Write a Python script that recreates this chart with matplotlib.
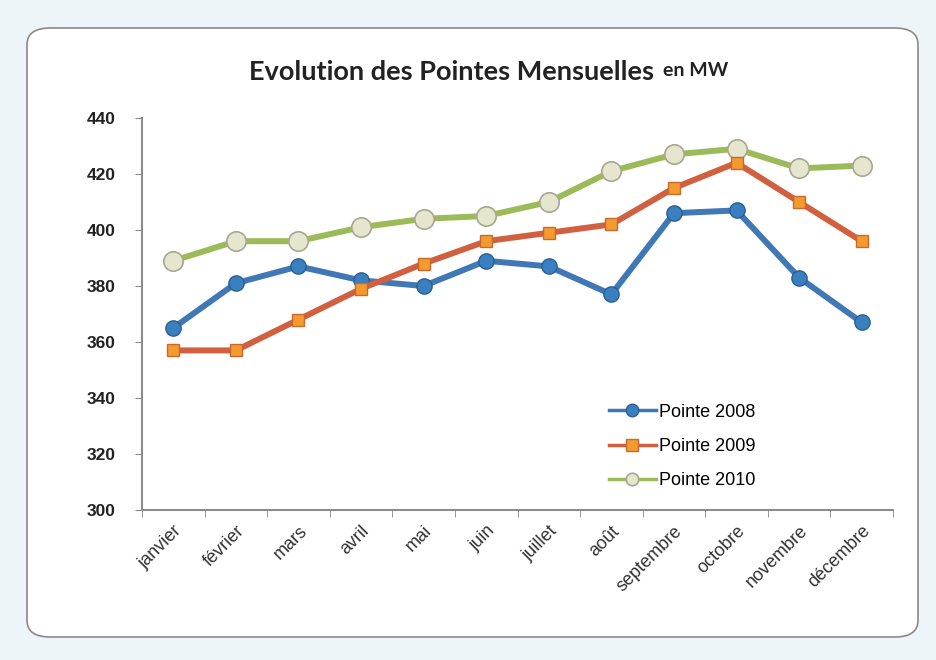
import numpy as np
import matplotlib.pyplot as plt
from matplotlib.patches import FancyBboxPatch

months = ["janvier", "février", "mars", "avril", "mai", "juin", "juillet",
          "août", "septembre", "octobre", "novembre", "décembre"]
pointe_2008 = [365, 381, 387, 382, 380, 389, 387, 377, 406, 407, 383, 367]
pointe_2009 = [357, 357, 368, 379, 388, 396, 399, 402, 415, 424, 410, 396]
pointe_2010 = [389, 396, 396, 401, 404, 405, 410, 421, 427, 429, 422, 423]
y_ticks = [300, 320, 340, 360, 380, 400, 420, 440]

fig = plt.figure(figsize=(9.36, 6.6), dpi=100)
fig.patch.set_facecolor("#eef5f9")

# white rounded card behind the chart
card = FancyBboxPatch((27 / 936, 1 - 637 / 660), (918 - 27) / 936, (637 - 28) / 660,
                      boxstyle="round,pad=0,rounding_size=0.025",
                      transform=fig.transFigure, facecolor="white",
                      edgecolor="#8a8a8a", linewidth=1.2, zorder=-5)
fig.patches.append(card)

ax = fig.add_axes([142 / 936, 1 - 510 / 660, (893 - 142) / 936, (510 - 118) / 660])
ax.set_facecolor("none")
ax.set_zorder(2)

x = np.arange(len(months))
ax.plot(x, pointe_2008, color="#3f78b4", lw=4.3, marker="o", ms=11,
        mfc="#3a7fc0", mec="#2c5f90", mew=1, label="Pointe 2008", zorder=3)
ax.plot(x, pointe_2009, color="#d0603f", lw=4.3, marker="s", ms=8.5,
        mfc="#f59a2e", mec="#c86a30", mew=1, label="Pointe 2009", zorder=3)
ax.plot(x, pointe_2010, color="#9bbb59", lw=4.3, marker="o", ms=14,
        mfc="#e6e6cf", mec="#a8a890", mew=1.2, label="Pointe 2010", zorder=2)

ax.set_xlim(-0.5, len(months) - 0.5)
ax.set_ylim(300, 440)
ax.set_yticks(y_ticks)
ax.set_yticklabels([str(v) for v in y_ticks], fontsize=12.5, fontweight="bold",
                   family="Liberation Sans", color="#222222")
ax.set_xticks(x)
ax.set_xticklabels(months, rotation=45, ha="right", rotation_mode="anchor",
                   fontsize=13, family="Liberation Sans", color="#333333")
ax.set_xticks(np.arange(len(months) + 1) - 0.5, minor=True)
ax.tick_params(axis="x", which="major", length=0, pad=9)
ax.tick_params(axis="x", which="minor", length=5, color="#888888", direction="out")
ax.tick_params(axis="y", length=5, color="#888888", direction="out", pad=14)
for side in ("top", "right"):
    ax.spines[side].set_visible(False)
for side in ("left", "bottom"):
    ax.spines[side].set_color("#8c8c8c")
    ax.spines[side].set_linewidth(1.5)

leg = ax.legend(loc="lower left", bbox_to_anchor=(0.6, 0.012), frameon=False,
                prop={"family": "Liberation Sans", "size": 13},
                handlelength=2.6, handletextpad=0.15, labelspacing=0.95)
for h in leg.legend_handles:
    h.set_linewidth(2.5)
    h.set_markersize(9)

fig.text(654 / 936, 1 - 72 / 660, "Evolution des Pointes Mensuelles", ha="right",
         va="center", fontsize=19.5, fontweight="bold", family="Lato",
         color="#222222")
fig.text(663 / 936, 1 - 70 / 660, "en MW", ha="left", va="center", fontsize=14,
         fontweight="bold", family="Lato", color="#222222")

fig.savefig("out.png", dpi=100, facecolor=fig.get_facecolor())
